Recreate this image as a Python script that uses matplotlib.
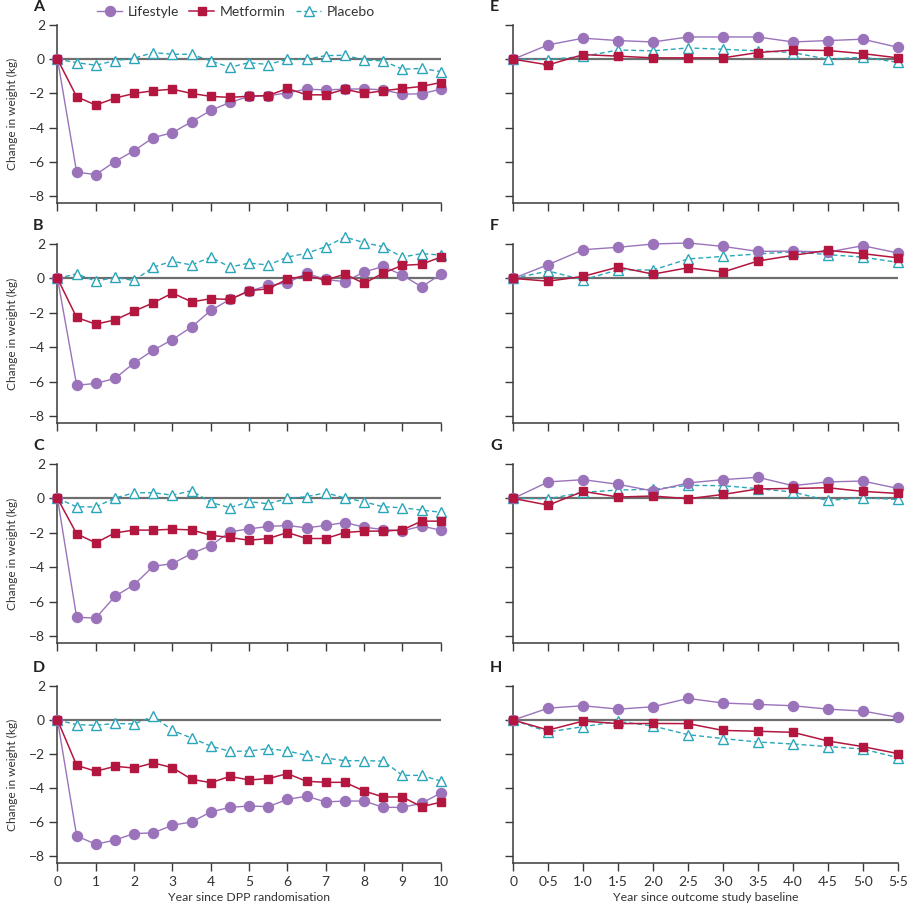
import matplotlib
matplotlib.use("Agg")
import matplotlib.pyplot as plt
from matplotlib.lines import Line2D

plt.rcParams['font.family'] = ['Lato', 'DejaVu Sans']

# ---------------- data ----------------
years_dpp = [0, 0.5, 1, 1.5, 2, 2.5, 3, 3.5, 4, 4.5, 5, 5.5, 6, 6.5, 7, 7.5, 8, 8.5, 9, 9.5, 10]
years_dppos = [0, 0.5, 1.0, 1.5, 2.0, 2.5, 3.0, 3.5, 4.0, 4.5, 5.0, 5.5]

series_names = ["Lifestyle", "Metformin", "Placebo"]

# Panel A
A_lifestyle = [0, -6.6, -6.74, -5.98, -5.34, -4.58, -4.29, -3.65, -2.99, -2.52, -2.17, -2.14, -1.96, -1.75, -1.79, -1.75, -1.73, -1.79, -2.04, -2.02, -1.75]
A_metformin = [0, -2.19, -2.68, -2.27, -2.0, -1.84, -1.75, -2.0, -2.17, -2.23, -2.16, -2.12, -1.71, -2.08, -2.08, -1.75, -2.0, -1.84, -1.71, -1.59, -1.36]
A_placebo = [0, -0.2, -0.35, -0.08, 0.06, 0.39, 0.29, 0.29, -0.1, -0.47, -0.2, -0.31, 0.0, 0.0, 0.21, 0.23, -0.04, -0.1, -0.58, -0.54, -0.72]
# Panel B
B_lifestyle = [0, -6.21, -6.1, -5.81, -4.91, -4.17, -3.55, -2.82, -1.86, -1.22, -0.74, -0.41, -0.25, 0.29, -0.06, -0.19, 0.37, 0.7, 0.19, -0.49, 0.23]
B_metformin = [0, -2.27, -2.66, -2.41, -1.9, -1.42, -0.85, -1.36, -1.18, -1.22, -0.72, -0.6, -0.04, 0.16, -0.1, 0.25, -0.29, 0.31, 0.76, 0.82, 1.24]
B_placebo = [0, 0.27, -0.16, 0.06, -0.12, 0.66, 1.0, 0.78, 1.24, 0.66, 0.89, 0.78, 1.24, 1.46, 1.84, 2.4, 2.08, 1.84, 1.24, 1.44, 1.36]
# Panel C
C_lifestyle = [0, -6.91, -6.95, -5.69, -5.01, -3.94, -3.79, -3.2, -2.74, -1.94, -1.77, -1.63, -1.57, -1.71, -1.57, -1.4, -1.67, -1.81, -1.88, -1.61, -1.84]
C_metformin = [0, -2.06, -2.58, -2.0, -1.84, -1.84, -1.79, -1.83, -2.14, -2.27, -2.43, -2.33, -1.98, -2.33, -2.33, -1.98, -1.9, -1.9, -1.83, -1.32, -1.32]
C_placebo = [0, -0.49, -0.49, 0.02, 0.33, 0.33, 0.19, 0.45, -0.23, -0.54, -0.19, -0.31, 0.0, 0.1, 0.33, 0.02, -0.19, -0.49, -0.54, -0.68, -0.8]
# Panel D
D_lifestyle = [0, -6.81, -7.3, -7.05, -6.67, -6.63, -6.18, -5.99, -5.4, -5.13, -5.05, -5.09, -4.66, -4.48, -4.81, -4.76, -4.76, -5.13, -5.13, -4.89, -4.29]
D_metformin = [0, -2.66, -3.01, -2.72, -2.82, -2.52, -2.8, -3.48, -3.68, -3.31, -3.52, -3.44, -3.15, -3.6, -3.66, -3.66, -4.17, -4.52, -4.52, -5.09, -4.83]
D_placebo = [0, -0.27, -0.31, -0.2, -0.23, 0.22, -0.61, -1.06, -1.53, -1.84, -1.82, -1.68, -1.82, -2.07, -2.23, -2.39, -2.39, -2.41, -3.25, -3.25, -3.58]
# Panel E
E_lifestyle = [0, 0.84, 1.23, 1.09, 1.01, 1.3, 1.3, 1.3, 1.01, 1.09, 1.17, 0.7]
E_metformin = [0, -0.33, 0.27, 0.18, 0.08, 0.08, 0.08, 0.39, 0.54, 0.51, 0.33, 0.08]
E_placebo = [0, -0.02, 0.16, 0.54, 0.49, 0.66, 0.58, 0.49, 0.39, 0.0, 0.12, -0.18]
# Panel F
F_lifestyle = [0, 0.8, 1.67, 1.81, 2.0, 2.06, 1.86, 1.57, 1.59, 1.53, 1.9, 1.48]
F_metformin = [0, -0.16, 0.12, 0.66, 0.25, 0.62, 0.37, 1.01, 1.34, 1.63, 1.44, 1.2]
F_placebo = [0, 0.43, -0.08, 0.5, 0.49, 1.13, 1.28, 1.42, 1.55, 1.38, 1.24, 0.93]
# Panel G
G_lifestyle = [0, 0.96, 1.09, 0.82, 0.43, 0.9, 1.09, 1.23, 0.74, 0.96, 1.01, 0.58]
G_metformin = [0, -0.39, 0.41, 0.08, 0.14, -0.02, 0.23, 0.55, 0.58, 0.62, 0.41, 0.29]
G_placebo = [0, -0.02, 0.35, 0.49, 0.53, 0.76, 0.74, 0.57, 0.37, -0.12, 0.04, -0.06]
# Panel H
H_lifestyle = [0, 0.7, 0.84, 0.64, 0.78, 1.27, 1.0, 0.92, 0.84, 0.64, 0.53, 0.16]
H_metformin = [0, -0.59, -0.06, -0.21, -0.2, -0.21, -0.61, -0.66, -0.72, -1.23, -1.56, -1.97]
H_placebo = [0, -0.7, -0.39, -0.08, -0.35, -0.86, -1.09, -1.29, -1.41, -1.56, -1.7, -2.21]

y_ticks = [2, 0, -2, -4, -6, -8]
left_xticks = [0, 1, 2, 3, 4, 5, 6, 7, 8, 9, 10]
left_xticklabels = ["0", "1", "2", "3", "4", "5", "6", "7", "8", "9", "10"]
right_xticks = [0, 0.5, 1.0, 1.5, 2.0, 2.5, 3.0, 3.5, 4.0, 4.5, 5.0, 5.5]
right_xticklabels = ["0", "0·5", "1·0", "1·5", "2·0", "2·5", "3·0", "3·5", "4·0", "4·5", "5·0", "5·5"]

left_panels = [("A", A_lifestyle, A_metformin, A_placebo),
               ("B", B_lifestyle, B_metformin, B_placebo),
               ("C", C_lifestyle, C_metformin, C_placebo),
               ("D", D_lifestyle, D_metformin, D_placebo)]
right_panels = [("E", E_lifestyle, E_metformin, E_placebo),
                ("F", F_lifestyle, F_metformin, F_placebo),
                ("G", G_lifestyle, G_metformin, G_placebo),
                ("H", H_lifestyle, H_metformin, H_placebo)]

# ---------------- style ----------------
C_LIFE = "#9a73bb"
C_MET = "#b3173f"
C_PLA = "#2aa6ba"
C_AX = "#3a3a3a"
C_ZERO = "#6e6e6e"

W = H = 907
fig = plt.figure(figsize=(W / 100, H / 100), dpi=100)

tops = [25, 244, 464, 686]
bottoms = [203, 423, 643, 863]
left_x = (57.5, 440.7)
right_x = (513.3, 897.7)


def style_series(ax, x, life, met, pla):
    ax.plot(x, life, color=C_LIFE, lw=1.0, marker="o", ms=7.2, mfc=C_LIFE, mec=C_LIFE,
            clip_on=False, zorder=4)
    ax.plot(x, met, color=C_MET, lw=1.1, marker="s", ms=5.6, mfc=C_MET, mec=C_MET,
            clip_on=False, zorder=5)
    ax.plot(x, pla, color=C_PLA, lw=1.0, ls=(0, (3.5, 2.2)), marker="^", ms=7.5, mfc="white",
            mec=C_PLA, mew=1.0, clip_on=False, zorder=3)


def make_axes(xr, i):
    x0, x1 = xr
    t, b = tops[i], bottoms[i]
    return fig.add_axes([x0 / W, 1 - b / H, (x1 - x0) / W, (b - t) / H])


for col, panels, xs, xr, xt, xtl, xlabel in [
        (0, left_panels, years_dpp, left_x, left_xticks, left_xticklabels, "Year since DPP randomisation"),
        (1, right_panels, years_dppos, right_x, right_xticks, right_xticklabels, "Year since outcome study baseline")]:
    for i, (letter, life, met, pla) in enumerate(panels):
        ax = make_axes(xr, i)
        ax.set_xlim(xs[0], xs[-1])
        ax.set_ylim(-8.4, 2)
        ax.axhline(0, color=C_ZERO, lw=1.6, zorder=1)
        style_series(ax, xs, life, met, pla)
        for s in ["top", "right"]:
            ax.spines[s].set_visible(False)
        for s in ["left", "bottom"]:
            ax.spines[s].set_color(C_AX)
            ax.spines[s].set_linewidth(1.1)
        ax.set_yticks(y_ticks)
        ax.set_xticks(xt)
        ax.tick_params(axis="both", direction="out", length=6, width=1.0, color=C_AX,
                       labelsize=10, labelcolor="#333333", pad=3)
        if col == 0:
            ax.set_yticklabels([f"{v}".replace("-", "\u2212") for v in y_ticks])
            ax.set_ylabel("Change in weight (kg)", fontsize=8.6, color="#333333", labelpad=8)
        else:
            ax.set_yticklabels([])
        if i == 3:
            ax.set_xticklabels(xtl)
            ax.set_xlabel(xlabel, fontsize=8.8, color="#333333", labelpad=3)
        else:
            ax.set_xticklabels([])
        lx = 33 if col == 0 else 490
        fig.text(lx / W, 1 - (tops[i] - 18) / H, letter, fontsize=11.5, fontweight="bold",
                 color="#222222", ha="left", va="center")

handles = [
    Line2D([], [], color=C_LIFE, lw=1.0, marker="o", ms=7.2, mfc=C_LIFE, mec=C_LIFE),
    Line2D([], [], color=C_MET, lw=1.1, marker="s", ms=5.6, mfc=C_MET, mec=C_MET),
    Line2D([], [], color=C_PLA, lw=1.0, ls=(0, (3.5, 2.2)), marker="^", ms=7.5, mfc="white", mec=C_PLA),
]
fig.legend(handles, series_names, loc="center left", bbox_to_anchor=(97 / W, 1 - 12 / H),
           ncol=3, frameon=False, fontsize=10, handlelength=1.8, handletextpad=0.4,
           columnspacing=0.75, borderaxespad=0, borderpad=0, labelcolor="#333333")

fig.savefig("out.png", dpi=100)
